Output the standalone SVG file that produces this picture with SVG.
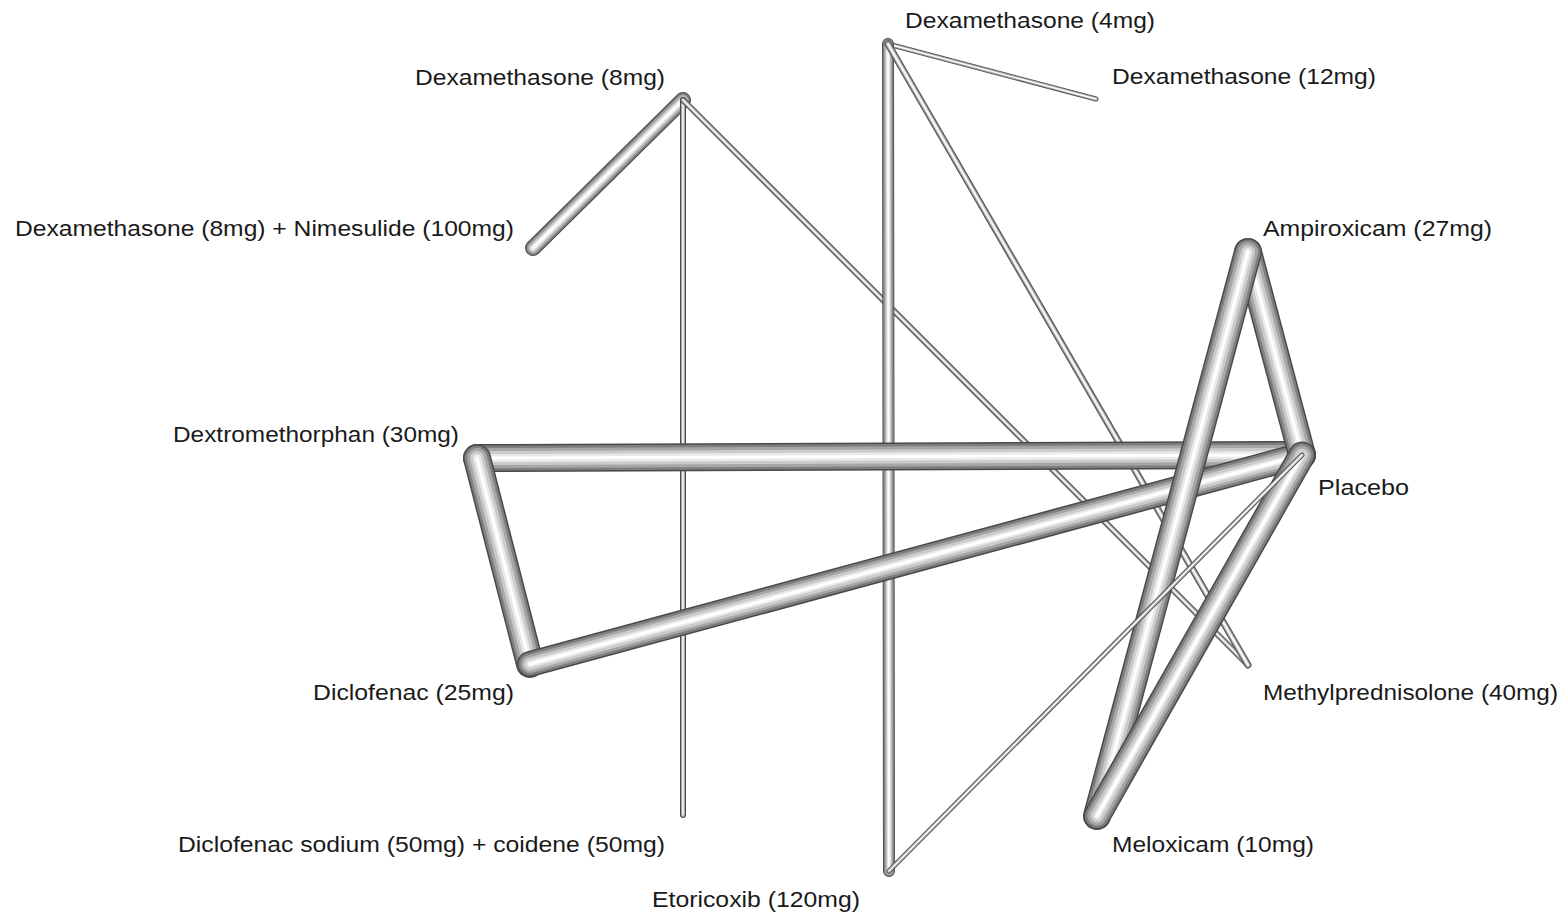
<svg xmlns="http://www.w3.org/2000/svg" xmlns:xlink="http://www.w3.org/1999/xlink" width="1567" height="917" viewBox="0 0 1567 917">
<style>
text{font-family:"Liberation Sans",Arial,sans-serif;font-size:22px;fill:#1a1a1a}
line{stroke-linecap:round;fill:none}
.a{stroke:#4a4a4a}.b{stroke:#7e7e7e}.c{stroke:#a6a6a6}.d{stroke:#cbcbcb}.e{stroke:#e9e9e9}.f{stroke:#ffffff}
</style>
<defs>
<line id="g1" x1="683" y1="100" x2="533" y2="248"/>
<line id="g2" x1="683" y1="100" x2="683" y2="815"/>
<line id="g3" x1="683" y1="100" x2="1248" y2="665"/>
<line id="g4" x1="888" y1="44" x2="1096" y2="99"/>
<line id="g5" x1="888" y1="44" x2="889" y2="871"/>
<line id="g6" x1="888" y1="44" x2="1248" y2="665"/>
<line id="g7" x1="477" y1="458" x2="1302" y2="455"/>
<line id="g8" x1="477" y1="458" x2="530" y2="664"/>
<line id="g9" x1="530" y1="664" x2="1302" y2="455"/>
<line id="g10" x1="1248" y1="252" x2="1302" y2="455"/>
<line id="g11" x1="1248" y1="252" x2="1097" y2="816"/>
<line id="g12" x1="1097" y1="816" x2="1302" y2="455"/>
<line id="g13" x1="889" y1="871" x2="1302" y2="455"/>
</defs>
<g id="connectors">
<g id="e-dex8-nim"><use href="#g1" class="a" stroke-width="16" stroke-linecap="round"/><use href="#g1" class="b" stroke-width="14" stroke-linecap="round"/><use href="#g1" class="c" stroke-width="11" stroke-linecap="round"/><use href="#g1" class="d" stroke-width="8" stroke-linecap="round"/><use href="#g1" class="e" stroke-width="5" stroke-linecap="round"/><use href="#g1" class="f" stroke-width="2" stroke-linecap="round"/></g>
<g id="e-dex8-diclosod"><use href="#g2" class="a" stroke-width="6" stroke-linecap="round"/><use href="#g2" class="c" stroke-width="4" stroke-linecap="round"/><use href="#g2" class="f" stroke-width="1.5" stroke-linecap="round"/></g>
<g id="e-dex8-methyl"><use href="#g3" class="a" stroke-width="6" stroke-linecap="round"/><use href="#g3" class="c" stroke-width="4" stroke-linecap="round"/><use href="#g3" class="f" stroke-width="1.5" stroke-linecap="round"/></g>
<g id="e-dex4-dex12"><use href="#g4" class="a" stroke-width="5" stroke-linecap="round"/><use href="#g4" class="c" stroke-width="3.4" stroke-linecap="round"/><use href="#g4" class="f" stroke-width="1.4" stroke-linecap="round"/></g>
<g id="e-dex4-etori"><use href="#g5" class="a" stroke-width="12" stroke-linecap="round"/><use href="#g5" class="b" stroke-width="10.5" stroke-linecap="round"/><use href="#g5" class="c" stroke-width="8" stroke-linecap="round"/><use href="#g5" class="d" stroke-width="5.5" stroke-linecap="round"/><use href="#g5" class="e" stroke-width="3.5" stroke-linecap="round"/><use href="#g5" class="f" stroke-width="1.5" stroke-linecap="round"/></g>
<g id="e-dex4-methyl"><use href="#g6" class="a" stroke-width="7" stroke-linecap="round"/><use href="#g6" class="b" stroke-width="5.5" stroke-linecap="round"/><use href="#g6" class="d" stroke-width="3.5" stroke-linecap="round"/><use href="#g6" class="f" stroke-width="1.5" stroke-linecap="round"/></g>
<g id="e-dextro-placebo"><use href="#g7" class="a" stroke-width="28" stroke-linecap="round"/><use href="#g7" class="b" stroke-width="25" stroke-linecap="round"/><use href="#g7" class="c" stroke-width="20" stroke-linecap="round"/><use href="#g7" class="d" stroke-width="14" stroke-linecap="round"/><use href="#g7" class="e" stroke-width="8" stroke-linecap="round"/><use href="#g7" class="f" stroke-width="3" stroke-linecap="round"/></g>
<g id="e-dextro-diclo"><use href="#g8" class="a" stroke-width="28" stroke-linecap="round"/><use href="#g8" class="b" stroke-width="25" stroke-linecap="round"/><use href="#g8" class="c" stroke-width="20" stroke-linecap="round"/><use href="#g8" class="d" stroke-width="14" stroke-linecap="round"/><use href="#g8" class="e" stroke-width="8" stroke-linecap="round"/><use href="#g8" class="f" stroke-width="3" stroke-linecap="round"/></g>
<g id="e-diclo-placebo"><use href="#g9" class="a" stroke-width="26" stroke-linecap="round"/><use href="#g9" class="b" stroke-width="23" stroke-linecap="round"/><use href="#g9" class="c" stroke-width="18" stroke-linecap="round"/><use href="#g9" class="d" stroke-width="13" stroke-linecap="round"/><use href="#g9" class="e" stroke-width="7" stroke-linecap="round"/><use href="#g9" class="f" stroke-width="3" stroke-linecap="round"/></g>
<g id="e-ampi-placebo"><use href="#g10" class="a" stroke-width="28" stroke-linecap="round"/><use href="#g10" class="b" stroke-width="25" stroke-linecap="round"/><use href="#g10" class="c" stroke-width="20" stroke-linecap="round"/><use href="#g10" class="d" stroke-width="14" stroke-linecap="round"/><use href="#g10" class="e" stroke-width="8" stroke-linecap="round"/><use href="#g10" class="f" stroke-width="3" stroke-linecap="round"/></g>
<g id="e-ampi-melox"><use href="#g11" class="a" stroke-width="28" stroke-linecap="round"/><use href="#g11" class="b" stroke-width="25" stroke-linecap="round"/><use href="#g11" class="c" stroke-width="20" stroke-linecap="round"/><use href="#g11" class="d" stroke-width="14" stroke-linecap="round"/><use href="#g11" class="e" stroke-width="8" stroke-linecap="round"/><use href="#g11" class="f" stroke-width="3" stroke-linecap="round"/></g>
<g id="e-melox-placebo"><use href="#g12" class="a" stroke-width="27" stroke-linecap="round"/><use href="#g12" class="b" stroke-width="24" stroke-linecap="round"/><use href="#g12" class="c" stroke-width="19" stroke-linecap="round"/><use href="#g12" class="d" stroke-width="13" stroke-linecap="round"/><use href="#g12" class="e" stroke-width="7" stroke-linecap="round"/><use href="#g12" class="f" stroke-width="3" stroke-linecap="round"/></g>
<g id="e-etori-placebo"><use href="#g13" class="a" stroke-width="5" stroke-linecap="round"/><use href="#g13" class="c" stroke-width="3.4" stroke-linecap="round"/><use href="#g13" class="f" stroke-width="1.4" stroke-linecap="round"/></g>
</g>
<g id="n-dex4"><text x="905" y="28" textLength="250" lengthAdjust="spacingAndGlyphs">Dexamethasone (4mg)</text></g>
<g id="n-dex12"><text x="1112" y="84" textLength="264" lengthAdjust="spacingAndGlyphs">Dexamethasone (12mg)</text></g>
<g id="n-dex8"><text x="415" y="85" textLength="250" lengthAdjust="spacingAndGlyphs">Dexamethasone (8mg)</text></g>
<g id="n-dex8nim"><text x="15" y="236" textLength="499" lengthAdjust="spacingAndGlyphs">Dexamethasone (8mg) + Nimesulide (100mg)</text></g>
<g id="n-ampi"><text x="1263" y="236" textLength="229" lengthAdjust="spacingAndGlyphs">Ampiroxicam (27mg)</text></g>
<g id="n-dextro"><text x="173" y="442" textLength="286" lengthAdjust="spacingAndGlyphs">Dextromethorphan (30mg)</text></g>
<g id="n-placebo"><text x="1318" y="495" textLength="91" lengthAdjust="spacingAndGlyphs">Placebo</text></g>
<g id="n-diclo"><text x="313" y="700" textLength="201" lengthAdjust="spacingAndGlyphs">Diclofenac (25mg)</text></g>
<g id="n-methyl"><text x="1263" y="700" textLength="295" lengthAdjust="spacingAndGlyphs">Methylprednisolone (40mg)</text></g>
<g id="n-diclosod"><text x="178" y="852" textLength="487" lengthAdjust="spacingAndGlyphs">Diclofenac sodium (50mg) + coidene (50mg)</text></g>
<g id="n-melox"><text x="1112" y="852" textLength="202" lengthAdjust="spacingAndGlyphs">Meloxicam (10mg)</text></g>
<g id="n-etori"><text x="652" y="907" textLength="208" lengthAdjust="spacingAndGlyphs">Etoricoxib (120mg)</text></g>
</svg>
